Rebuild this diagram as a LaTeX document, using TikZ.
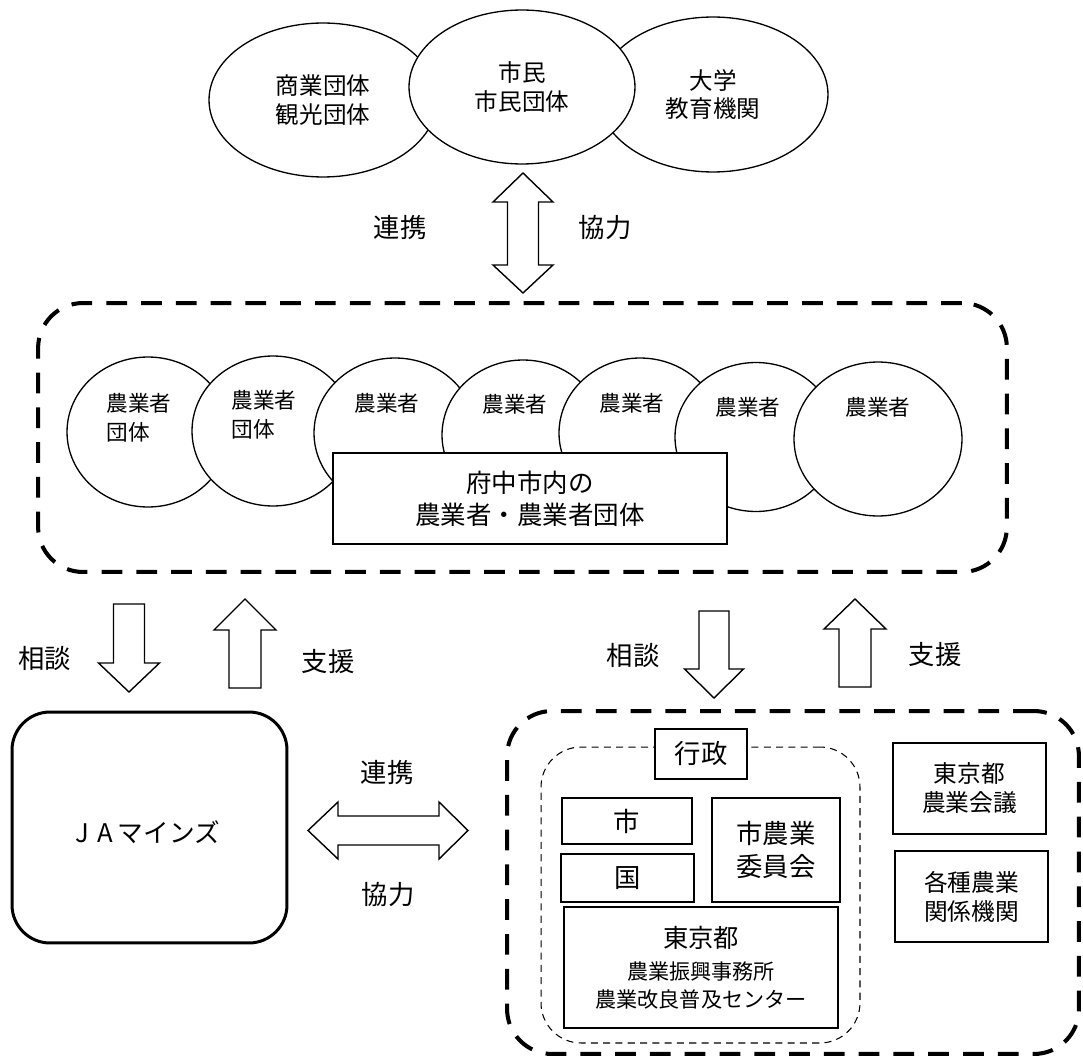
\documentclass[tikz,border=0pt]{standalone}
\usepackage{fontspec}
\setmainfont{Noto Sans CJK JP}
\usetikzlibrary{shapes.geometric}

\tikzset{
  topgrp/.style={ellipse, draw, fill=white, line width=0.75pt, inner sep=0pt, align=center,
    font=\fontsize{13.4}{16}\selectfont},
  farm/.style={ellipse, draw, fill=white, line width=0.75pt, inner sep=0pt,
    minimum width=3.24cm, minimum height=3cm},
  farmtext/.style={inner sep=0pt, align=left, font=\fontsize{12.3}{16.5}\selectfont},
  orgbox/.style={rectangle, draw, fill=white, line width=0.8pt, inner sep=0pt, align=center},
  grpframe/.style={rectangle, draw, rounded corners=0.9cm, line width=2.3pt,
    dash pattern=on 11.8pt off 8pt, inner sep=0pt},
  blk/.style={draw, fill=white, line width=0.8pt, line join=miter},
  lbl/.style={inner sep=0pt, font=\fontsize{15}{18}\selectfont},
}

\begin{document}
\begin{tikzpicture}[x=0.02cm, y=-0.02cm]
\useasboundingbox (0,0) rectangle (1083,1061);

% outside partners
\node[topgrp, minimum width=4.56cm, minimum height=3.08cm] (shoko) at (323,100) {商業団体\\観光団体};
\node[topgrp, minimum width=4.6cm, minimum height=3.1cm] (daigaku) at (713,94.5) {大学\\教育機関};
\node[topgrp, minimum width=4.52cm, minimum height=3.08cm] (shimin) at (522,87) {市民\\市民団体};

\coordinate (vd) at (523,173);
\draw[blk] (vd) -- ++(30,29) -- ++(-14.5,0) -- ++(0,63) -- ++(14.5,0) -- ++(-30,28)
  -- ++(-30,-28) -- ++(14.5,0) -- ++(0,-63) -- ++(-14.5,0) -- cycle;
\node[lbl] (renkei1) at (400,228) {連携};
\node[lbl] (kyoryoku1) at (605,228) {協力};

% farmers in the city
\node[grpframe, minimum width=19.38cm, minimum height=5.38cm] (farmers) at (522.5,437.5) {};
\node[farm] (f1) at (148,432) {};
\node[farm] (f2) at (273,431) {};
\node[farm] (f3) at (395,433) {};
\node[farm] (f4) at (523,435) {};
\node[farm] (f5) at (640,433) {};
\node[farm, minimum height=2.98cm] (f6) at (756,437) {};
\node[farm, minimum width=3.36cm, minimum height=3.08cm] (f7) at (878,439) {};
\node[farmtext] (f1t) at (139,417.5) {農業者\\団体};
\node[farmtext] (f2t) at (264,415) {農業者\\団体};
\node[farmtext] (f3t) at (387,403) {農業者};
\node[farmtext] (f4t) at (515,404) {農業者};
\node[farmtext] (f5t) at (632,403) {農業者};
\node[farmtext] (f6t) at (748,407) {農業者};
\node[farmtext] (f7t) at (878,407) {農業者};
\node[orgbox, minimum width=7.88cm, minimum height=1.82cm,
  font=\fontsize{14.5}{18.2}\selectfont] (fuchu) at (530,498.5) {府中市内の\\農業者・農業者団体};

% JA side
\coordinate (dl) at (129,604);
\draw[blk] (dl) ++(-15.5,0) -- ++(31,0) -- ++(0,59) -- ++(15,0) -- ++(-30.5,29)
  -- ++(-30.5,-29) -- ++(15,0) -- cycle;
\coordinate (ul) at (245,599);
\draw[blk] (ul) -- ++(31,31) -- ++(-15,0) -- ++(0,58) -- ++(-32,0) -- ++(0,-58)
  -- ++(-15,0) -- cycle;
\node[lbl] (sodan1) at (45,658) {相談};
\node[lbl] (shien1) at (328,662) {支援};

\node[orgbox, rounded corners=0.76cm, line width=1.7pt, minimum width=5.5cm, minimum height=4.62cm,
  font=\fontsize{14.6}{18}\selectfont] (ja) at (149.5,827.5) {};
\node[lbl, font=\fontsize{14.6}{18}\selectfont] (jat) at (146,832)
  {\makebox[0.78em][c]{J}\makebox[1em][c]{A}マインズ};

\coordinate (hd) at (308,830.5);
\draw[blk] (hd) -- ++(30,-28.5) -- ++(0,14) -- ++(101,0) -- ++(0,-14) -- ++(29,28.5)
  -- ++(-29,28.5) -- ++(0,-14) -- ++(-101,0) -- ++(0,14) -- cycle;
\node[lbl] (renkei2) at (387,773) {連携};
\node[lbl] (kyoryoku2) at (388,895) {協力};

% administration side
\coordinate (dr) at (714,611);
\draw[blk] (dr) ++(-15,0) -- ++(30,0) -- ++(0,58) -- ++(14.5,0) -- ++(-29.5,29)
  -- ++(-29.5,-29) -- ++(14.5,0) -- cycle;
\coordinate (ur) at (855,599);
\draw[blk] (ur) -- ++(31,30) -- ++(-15,0) -- ++(0,58) -- ++(-32,0) -- ++(0,-58)
  -- ++(-15,0) -- cycle;
\node[lbl] (sodan2) at (633,655) {相談};
\node[lbl] (shien2) at (935,655) {支援};

\node[grpframe, minimum width=11.44cm, minimum height=6.86cm] (kankei) at (793,882.5) {};
\node[draw, rounded corners=0.8cm, line width=0.6pt, dash pattern=on 4pt off 3pt,
  minimum width=6.38cm, minimum height=5.92cm, inner sep=0pt] (gyosei) at (700.5,895) {};
\node[orgbox, minimum width=1.84cm, minimum height=1cm, font=\fontsize{15}{18}\selectfont] (gyoseit) at (701,754) {行政};
\node[orgbox, minimum width=2.6cm, minimum height=0.92cm, font=\fontsize{15}{18}\selectfont] (shi) at (627,821) {市};
\node[orgbox, minimum width=2.66cm, minimum height=0.96cm, font=\fontsize{15}{18}\selectfont] (kuni) at (627.5,878) {国};
\node[orgbox, minimum width=2.56cm, minimum height=2.08cm, font=\fontsize{15}{18.8}\selectfont] (iinkai) at (776,850) {市農業\\委員会};
\node[orgbox, minimum width=5.48cm, minimum height=2.42cm, font=\fontsize{12}{16}\selectfont] (tokyo) at (701,967.5)
  {{\fontsize{14.4}{16}\selectfont 東京都}\\[2pt]農業振興事務所\\農業改良普及センター};
\node[orgbox, minimum width=3.06cm, minimum height=1.82cm, font=\fontsize{13.5}{16.5}\selectfont] (kaigi) at (969.5,788.5) {東京都\\農業会議};
\node[orgbox, minimum width=3.06cm, minimum height=1.82cm, font=\fontsize{13.5}{16.5}\selectfont] (kikan) at (971.5,896.5) {各種農業\\関係機関};

\end{tikzpicture}
\end{document}
